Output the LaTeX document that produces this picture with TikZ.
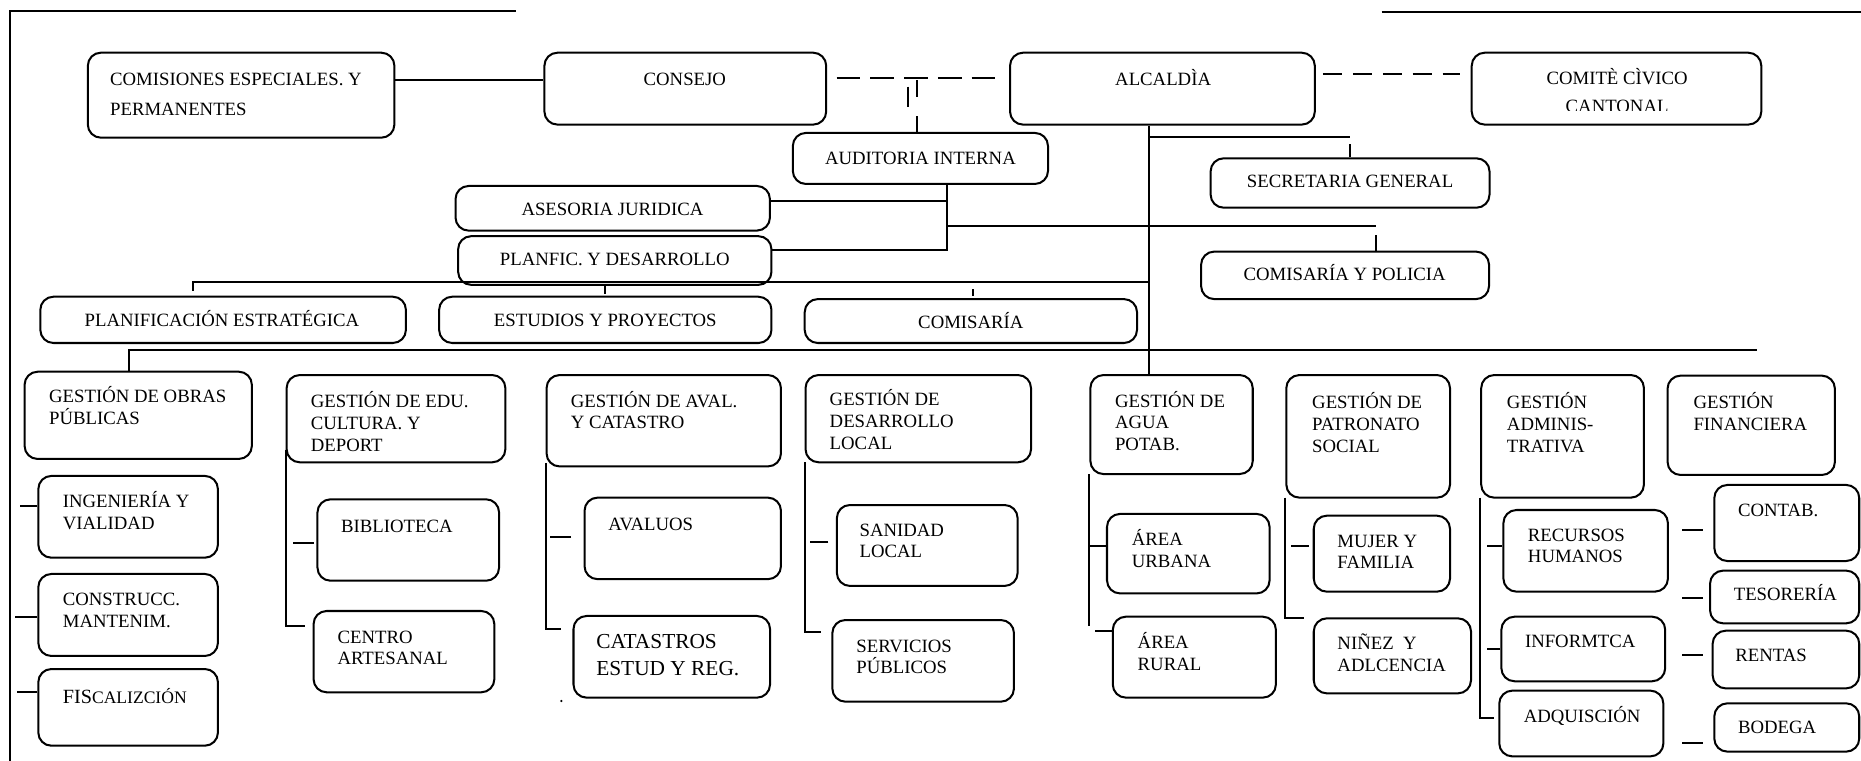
\documentclass[tikz,border=0pt]{standalone}
\usepackage{fontspec}
\setmainfont{Liberation Serif}
\usetikzlibrary{fit}
\newcommand\lf{\fontsize{7.9}{9.15}\selectfont}
\newcommand\fl{\rule{0pt}{8pt}}
\begin{document}
\begin{tikzpicture}[x=0.5pt,y=-0.5pt,
  ln/.style={line width=0.85pt},
  box/.style={draw, rounded corners=5.5pt, line width=0.85pt, inner sep=0pt},
  lbl/.style={font=\lf, inner sep=0pt, anchor=north west, align=left},
  lblc/.style={font=\lf, inner sep=0pt, anchor=north, align=center},
  dsha/.style={line width=0.85pt, dash pattern=on 10pt off 4.2pt},
  dshb/.style={line width=0.85pt, dash pattern=on 8pt off 4.6pt}]
\useasboundingbox (0,0) rectangle (1568,641);
% frame lines
\draw[ln] (8.5,641) -- (8.5,9) -- (434.8,9);
\draw[ln] (1164,10.5) -- (1568,10.5);
% ---- top row
\node[box, fit={(74,44.4) (332.3,116)}] (com) {};
\node[lbl, font=\fontsize{7.9}{12.65}\selectfont] (com-t) at (92.4,55.6) {\fl COMISIONES ESPECIALES. Y\\PERMANENTES};
\node[box, fit={(458.7,44.4) (696.1,105)}] (con) {};
\node[lblc] (con-t) at (577,55.6) {\fl CONSEJO};
\node[box, fit={(851,44.4) (1107.8,105)}] (alc) {};
\node[lblc] (alc-t) at (980,55.6) {\fl ALCALDÌA};
\node[box, fit={(1240,44.4) (1484,105)}] (cmt) {};
\begin{scope}
\clip (1240,44.4) rectangle (1484,92.7);
\node[lblc, font=\fontsize{7.9}{11.5}\selectfont] (cmt-t) at (1362.5,55) {\fl COMITÈ CÌVICO\\CANTONAL};
\end{scope}
% ---- second level
\node[box, fit={(668,112) (883,155)}] (aud) {};
\node[lblc] (aud-t) at (775.5,122) {\fl AUDITORIA INTERNA};
\node[box, fit={(1020,133.4) (1255,175)}] (sec) {};
\node[lblc] (sec-t) at (1137.5,142) {\fl SECRETARIA GENERAL};
\node[box, fit={(383.8,156.7) (648.7,194.3)}] (asj) {};
\node[lblc] (asj-t) at (516,165) {\fl ASESORIA JURIDICA};
\node[box, fit={(386,199) (650,240)}] (pla) {};
\node[lblc] (pla-t) at (518,207) {\fl PLANFIC. Y DESARROLLO};
\node[box, fit={(1012,212) (1254.6,252)}] (cpo) {};
\node[lblc] (cpo-t) at (1133,220) {\fl COMISARÍA Y POLICIA};
\node[box, fit={(34,250) (342,289)}] (pes) {};
\node[lblc] (pes-t) at (187,259) {\fl PLANIFICACIÓN ESTRATÉGICA};
\node[box, fit={(370,250) (650,289)}] (eyp) {};
\node[lblc] (eyp-t) at (510,259) {\fl ESTUDIOS Y PROYECTOS};
\node[box, fit={(678,252) (958,289)}] (cms) {};
\node[lblc] (cms-t) at (818,260) {\fl COMISARÍA};
% ---- gestion row
\node[box, fit={(20.7,313.2) (212.2,386.7)}] (obr) {};
\node[lbl] (obr-t) at (41,323) {\fl GESTIÓN DE OBRAS\\PÚBLICAS};
\node[box, fit={(241.5,316) (425.8,389.5)}] (edu) {};
\node[lbl] (edu-t) at (261.5,327) {\fl GESTIÓN DE EDU.\\CULTURA. Y\\DEPORT};
\node[box, fit={(460.5,316) (658,393)}] (ava) {};
\node[lbl] (ava-t) at (480.6,326.6) {\fl GESTIÓN DE AVAL.\\Y CATASTRO};
\node[box, fit={(678.7,316) (868.7,389.5)}] (des) {};
\node[lbl] (des-t) at (698.7,325.5) {\fl GESTIÓN DE\\DESARROLLO\\LOCAL};
\node[box, fit={(918.7,316) (1055.5,399.4)}] (agu) {};
\node[lbl] (agu-t) at (939.1,326.6) {\fl GESTIÓN DE\\AGUA\\POTAB.};
\node[box, fit={(1083.8,316) (1221.7,419.3)}] (pat) {};
\node[lbl] (pat-t) at (1105.2,328) {\fl GESTIÓN DE\\PATRONATO\\SOCIAL};
\node[box, fit={(1248,316) (1385.1,419.3)}] (adm) {};
\node[lbl] (adm-t) at (1269.3,328) {\fl GESTIÓN\\ADMINIS-\\TRATIVA};
\node[box, fit={(1405,316.5) (1546,400.2)}] (fin) {};
\node[lbl] (fin-t) at (1426.5,328) {\fl GESTIÓN\\FINANCIERA};
% ---- sub units
\node[box, fit={(32.3,401) (183.6,469.9)}] (ing) {};
\node[lbl] (ing-t) at (52.6,411.5) {\fl INGENIERÍA Y\\VIALIDAD};
\node[box, fit={(32.3,483.6) (183.6,552.7)}] (cns) {};
\node[lbl] (cns-t) at (52.6,493.7) {\fl CONSTRUCC.\\MANTENIM.};
\node[box, fit={(32.3,563.7) (183.6,628.3)}] (fis) {};
\node[lbl] (fis-t) at (52.6,576) {\fl{\fontsize{8.5}{9}\selectfont FIS}{\fontsize{7.4}{9}\selectfont CALIZCIÓN}};
\node[box, fit={(267.5,420.7) (420.5,489.3)}] (bib) {};
\node[lbl] (bib-t) at (287,432) {\fl BIBLIOTECA};
\node[box, fit={(264.2,514.8) (416.5,583.3)}] (cen) {};
\node[lbl] (cen-t) at (284,525.5) {\fl CENTRO\\ARTESANAL};
\node[box, fit={(492.5,419.3) (658,488)}] (avl) {};
\node[lbl] (avl-t) at (512.2,430.5) {\fl AVALUOS};
\node[box, fit={(483.2,519) (648.8,587.8)}] (cat) {};
\node[lbl, font=\fontsize{9}{11.25}\selectfont] (cat-t) at (502,530.2) {\fl CATASTROS\\ESTUD Y REG.};
\fill (473,590.6) circle (0.5pt);
\node[box, fit={(705.1,425.5) (857.4,493.7)}] (san) {};
\node[lbl] (san-t) at (723.9,435.3) {\fl SANIDAD\\LOCAL};
\node[box, fit={(701.3,522.4) (854.3,591.2)}] (ser) {};
\node[lbl] (ser-t) at (721.2,533) {\fl SERVICIOS\\PÚBLICOS};
\node[box, fit={(932.7,433) (1069.7,500)}] (urb) {};
\node[lbl] (urb-t) at (953.3,443.2) {\fl ÁREA\\URBANA};
\node[box, fit={(937.6,519.6) (1075,587.8)}] (rur) {};
\node[lbl] (rur-t) at (958.2,530.2) {\fl ÁREA\\RURAL};
\node[box, fit={(1106.9,434.5) (1221.7,498.5)}] (muj) {};
\node[lbl] (muj-t) at (1126.5,444.6) {\fl MUJER Y\\FAMILIA};
\node[box, fit={(1106.9,521) (1239.4,584.2)}] (nin) {};
\node[lbl] (nin-t) at (1126.5,530.8) {\fl NIÑEZ\ \ Y\\ADLCENCIA};
\node[box, fit={(1266.7,429.7) (1405.3,498.5)}] (rhu) {};
\node[lbl] (rhu-t) at (1287,439.5) {\fl RECURSOS\\HUMANOS};
\node[box, fit={(1265,519.6) (1403,574)}] (inf) {};
\node[lbl] (inf-t) at (1284.5,528.8) {\fl INFORMTCA};
\node[box, fit={(1263.2,581.9) (1401.5,637.3)}] (adq) {};
\node[lbl] (adq-t) at (1283.5,592) {\fl ADQUISCIÓN};
\node[box, fit={(1444.4,408.6) (1566.5,472.7)}] (cnt) {};
\node[lbl] (cnt-t) at (1464,418.7) {\fl CONTAB.};
\node[box, fit={(1440.8,480.8) (1566.5,525.2)}] (tes) {};
\node[lbl] (tes-t) at (1460.4,489.5) {\fl TESORERÍA};
\node[box, fit={(1443,531.4) (1566.5,580)}] (ren) {};
\node[lbl] (ren-t) at (1461.8,540.9) {\fl RENTAS};
\node[box, fit={(1444.4,592.6) (1566.5,633.3)}] (bod) {};
\node[lbl] (bod-t) at (1464,601.9) {\fl BODEGA};
% ---- coordinates for buses
\coordinate (va) at (967.7,0);
\coordinate (vb) at (797.5,0);
\coordinate (vc) at (1159.7,0);
% ---- top connectors
\draw[ln] (com.east |- 0,67) -- (con.west |- 0,67);
\draw[dsha] ([xshift=4pt]con.east |- 0,66) -- ([xshift=-5.5pt]alc.west |- 0,66);
\draw[dshb] ([xshift=3pt]alc.east |- 0,62) -- ([xshift=-4.5pt]cmt.west |- 0,62);
\draw[ln] (772.6,67.5) -- (772.6,81.7);
\draw[ln] (765,73) -- (765,90);
\draw[ln] (aud.north -| 772.6,0) ++(0,-13) -- (aud.north -| 772.6,0);
\draw[ln] (alc.south -| va) -- (agu.north -| va);
\draw[ln] (va |- 0,115.7) -- (sec.north |- 0,115.7);
\draw[ln] (sec.north) -- ++(0,-11);
\draw[ln] (aud.south -| vb) -- (vb |- 0,211) -- (pla.east |- 0,211);
\draw[ln] (asj.east |- 0,169) -- (vb |- 0,169);
\draw[ln] (vb |- 0,190.4) -- (vc |- 0,190.4);
\draw[ln] (cpo.north -| vc) -- ++(0,-13);
\draw[ln] ([yshift=2pt]pes.north -| 162.4,0) -- (162.4,237.3) -- (va |- 0,237.3);
\draw[ln] (eyp.north -| 509.7,0) ++(0,-1.4) -- ++(0,-7.1);
\draw[ln] (cms.north -| 819.6,0) ++(0,-2) -- ++(0,-6);
\draw[ln] (obr.north -| 108.3,0) -- (108.3,294.6) -- (1480,294.6);
% ---- sub connectors
\draw[ln] (ing.west |- 0,426) -- ++(-15,0);
\draw[ln] (cns.west |- 0,519.6) -- ++(-19,0);
\draw[ln] (fis.west |- 0,582.8) -- ++(-17.3,0);
\draw[ln] (edu.west |- 0,379) -- (edu.west |- 0,527.5) -- ([xshift=-3pt]cen.west |- 0,527.5);
\draw[ln] (bib.west |- 0,457.8) ++(-2.5,0) -- ++(-17,0);
\draw[ln] (ava.west |- 0,390) -- (ava.west |- 0,530) -- ([xshift=-5pt]cat.west |- 0,530);
\draw[ln] (avl.west |- 0,452.2) ++(-10.5,0) -- ++(-17.5,0);
\draw[ln] (des.west |- 0,389.5) -- (des.west |- 0,532.2) -- ([xshift=-4.3pt]ser.west |- 0,532.2);
\draw[ln] (san.west |- 0,456.4) ++(-6.4,0) -- ++(-15.1,0);
\draw[ln] (agu.west |- 0,399.4) -- (agu.west |- 0,527.5);
\draw[ln] (urb.west |- 0,460) -- (agu.west |- 0,460);
\draw[ln] (rur.west |- 0,531.6) -- ++(-14.4,0);
\draw[ln] (pat.west |- 0,419.3) -- (pat.west |- 0,520.4) -- ([xshift=-3.5pt]nin.west |- 0,520.4);
\draw[ln] (muj.west |- 0,460) ++(-3.5,0) -- ++(-14.9,0);
\draw[ln] (adm.west |- 0,419.3) -- (adm.west |- 0,605.2) -- ([xshift=-1.8pt]adq.west |- 0,605.2);
\draw[ln] (rhu.west |- 0,460) ++(-0.7,0) -- ++(-12.3,0);
\draw[ln] (inf.west |- 0,546.8) -- ++(-11.3,0);
\draw[ln] (cnt.west |- 0,446.5) ++(-8.7,0) -- ++(-18,0);
\draw[ln] (tes.west |- 0,504.1) ++(-5.1,0) -- ++(-18,0);
\draw[ln] (ren.west |- 0,551.9) ++(-7.3,0) -- ++(-18,0);
\draw[ln] (bod.west |- 0,625.7) ++(-8.7,0) -- ++(-18,0);
\end{tikzpicture}
\end{document}
